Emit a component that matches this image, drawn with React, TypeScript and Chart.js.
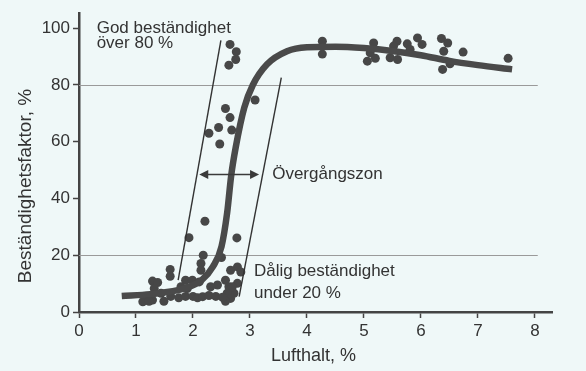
import React, { useEffect, useRef } from "react";
import { Chart, registerables } from "chart.js";
Chart.register(...registerables);

const FONT = "'Liberation Sans', Arial, Helvetica, sans-serif";
const BG = "#eff8f8";
const INK = "#333333";

const xTicks = [0, 1, 2, 3, 4, 5, 6, 7, 8];
const yTicks = [0, 20, 40, 60, 80, 100];
const gridValues = [20, 80];

// measured points (Lufthalt %, Beständighetsfaktor %)
const pointsX = [
  4.27, 4.27, 5.17, 5.11, 5.06, 5.2, 5.58, 5.52, 5.46, 5.59, 5.76, 5.81, 5.94, 6.02, 6.36, 6.47, 6.4, 6.74, 6.51, 6.38, 7.53,
  2.65, 2.76, 2.75, 2.63, 3.09, 2.57, 2.65, 2.45, 2.28, 2.68, 2.47,
  2.21, 1.93, 2.77, 2.18, 2.5,
  1.6, 1.6, 2.14, 2.14, 2.78, 2.66, 2.84,
  1.29, 1.38, 1.32, 1.17, 1.29, 1.44, 1.12, 1.23, 1.49,
  1.87, 1.99, 1.79, 1.9, 2.11, 2.43, 2.57, 2.63, 2.31,
  2.78, 2.72, 2.69, 2.6, 2.66, 2.57,
  1.61, 1.75, 1.87, 2.0, 2.08, 2.17, 2.28, 2.4, 2.52,
];
const pointsY = [
  95.4, 90.9, 94.8, 91.3, 88.4, 89.4, 95.4, 93.7, 89.6, 89.0, 94.5, 92.5, 96.6, 94.3, 96.4, 94.8, 91.9, 91.6, 87.5, 85.5, 89.4,
  94.3, 91.7, 89.0, 87.0, 74.7, 71.7, 68.5, 65.0, 63.0, 64.1, 59.2,
  32.0, 26.2, 26.1, 20.0, 19.2,
  15.0, 12.6, 17.1, 14.7, 15.9, 14.7, 14.1,
  10.9, 10.4, 8.3, 4.8, 4.2, 6.6, 3.6, 3.8, 3.8,
  11.2, 11.2, 8.9, 8.3, 10.6, 9.5, 11.2, 8.9, 8.9,
  10.1, 6.6, 8.9, 6.6, 4.8, 3.8,
  5.5, 5.0, 5.5, 5.5, 5.0, 5.4, 5.8, 5.5, 5.2,
];

// fitted curve
const curveX = [0.75, 1.25, 1.85, 2.15, 2.35, 2.5, 2.6, 2.67, 2.75, 2.9, 3.05, 3.3, 3.65, 4.0, 4.5, 5.0, 5.5, 6.0, 6.5, 7.0, 7.6];
const curveY = [5.6, 6.3, 8.3, 11.2, 16, 23, 35, 48, 58, 72, 80, 87.3, 91.9, 93.3, 93.5, 93, 92, 90.5, 88.5, 87, 85.5];

// transition zone boundaries
const leftBoundX = [2.49, 1.74];
const leftBoundY = [95.7, 11.2];
const rightBoundX = [3.55, 2.81];
const rightBoundY = [82.6, 5.4];

// double arrow across the transition zone
const arrowX = [2.11, 3.16];
const arrowY = [48.5, 48.5];

const noteTexts = ["God beständighet", "över 80 %", "Övergångszon", "Dålig beständighet", "under 20 %"];
const noteX = [0.31, 0.31, 3.39, 3.07, 3.07];
const noteY = [100, 94.6, 48.5, 14.2, 6.7];

const xTitle = "Lufthalt, %";
const yTitle = "Beständighetsfaktor, %";

const extrasPlugin = {
  id: "extras",
  beforeDraw(chart: any) {
    const { ctx, width, height } = chart;
    ctx.save();
    ctx.fillStyle = BG;
    ctx.fillRect(0, 0, width, height);
    ctx.restore();
  },
  beforeDatasetsDraw(chart: any) {
    const { ctx } = chart;
    const xs = chart.scales.x;
    const ys = chart.scales.y;
    ctx.save();
    ctx.strokeStyle = "#9a9a9a";
    ctx.lineWidth = 1;
    gridValues.forEach((v) => {
      const py = Math.round(ys.getPixelForValue(v)) + 0.5;
      ctx.beginPath();
      ctx.moveTo(xs.getPixelForValue(0), py);
      ctx.lineTo(xs.getPixelForValue(8.05), py);
      ctx.stroke();
    });
    ctx.restore();
  },
  afterDatasetsDraw(chart: any) {
    const { ctx } = chart;
    const xs = chart.scales.x;
    const ys = chart.scales.y;
    ctx.save();
    // arrow
    const x1 = xs.getPixelForValue(arrowX[0]);
    const x2 = xs.getPixelForValue(arrowX[1]);
    const y1 = ys.getPixelForValue(arrowY[0]);
    ctx.strokeStyle = "#3a3a3a";
    ctx.fillStyle = "#3a3a3a";
    ctx.lineWidth = 1.5;
    ctx.beginPath();
    ctx.moveTo(x1 + 4, y1);
    ctx.lineTo(x2 - 4, y1);
    ctx.stroke();
    const head = (x: number, dir: number) => {
      ctx.beginPath();
      ctx.moveTo(x, y1);
      ctx.lineTo(x - dir * 9, y1 - 4.5);
      ctx.lineTo(x - dir * 9, y1 + 4.5);
      ctx.closePath();
      ctx.fill();
    };
    head(x1, -1);
    head(x2, 1);
    // notes
    ctx.fillStyle = INK;
    ctx.font = `17px ${FONT}`;
    ctx.textBaseline = "middle";
    ctx.textAlign = "left";
    noteTexts.forEach((t, i) => {
      ctx.fillText(t, xs.getPixelForValue(noteX[i]), ys.getPixelForValue(noteY[i]));
    });
    // axis titles
    ctx.textAlign = "center";
    ctx.font = `18px ${FONT}`;
    ctx.fillText(xTitle, (xs.left + xs.right) / 2 - 2, 356);
    ctx.font = `19px ${FONT}`;
    ctx.translate(26, 186);
    ctx.rotate(-Math.PI / 2);
    ctx.fillText(yTitle, 0, 0);
    ctx.restore();
  },
};

export default function App() {
  const ref = useRef<HTMLCanvasElement | null>(null);
  useEffect(() => {
    document.body.style.margin = "0";
    document.body.style.background = BG;
    const canvas = ref.current!;
    const chart = new Chart(canvas, {
      type: "scatter",
      data: {
        datasets: [
          {
            type: "line",
            data: leftBoundX.map((x, i) => ({ x, y: leftBoundY[i] })),
            borderColor: "#333",
            borderWidth: 1.4,
            pointRadius: 0,
            showLine: true,
          } as any,
          {
            type: "line",
            data: rightBoundX.map((x, i) => ({ x, y: rightBoundY[i] })),
            borderColor: "#333",
            borderWidth: 1.4,
            pointRadius: 0,
            showLine: true,
          } as any,
          {
            type: "line",
            data: curveX.map((x, i) => ({ x, y: curveY[i] })),
            borderColor: "#4a4a4a",
            borderWidth: 6.5,
            pointRadius: 0,
            cubicInterpolationMode: "monotone",
            borderCapStyle: "butt",
            showLine: true,
          } as any,
          {
            data: pointsX.map((x, i) => ({ x, y: pointsY[i] })),
            backgroundColor: "#474747",
            borderColor: "#474747",
            borderWidth: 0,
            pointRadius: 4.5,
          },
        ],
      },
      options: {
        animation: false,
        responsive: false,
        maintainAspectRatio: false,
        layout: { padding: { top: 12, right: 34, left: 0, bottom: 0 } },
        plugins: { legend: { display: false }, tooltip: { enabled: false } },
        scales: {
          x: {
            type: "linear",
            min: 0,
            max: 8.3,
            afterBuildTicks: (s: any) => {
              s.ticks = xTicks.map((v) => ({ value: v }));
            },
            afterFit: (s: any) => {
              s.height = 59;
            },
            grid: { display: true, drawOnChartArea: false, drawTicks: true, tickLength: 6, tickColor: "#444", tickWidth: 1.5 },
            border: { display: true, color: "#444", width: 2.5 },
            ticks: { color: INK, font: { size: 17, family: FONT }, padding: 3, maxRotation: 0 },
          },
          y: {
            type: "linear",
            min: 0,
            max: 105.3,
            afterBuildTicks: (s: any) => {
              s.ticks = yTicks.map((v) => ({ value: v }));
            },
            afterFit: (s: any) => {
              s.width = 79;
            },
            grid: { display: true, drawOnChartArea: false, drawTicks: true, tickLength: 6, tickColor: "#444", tickWidth: 1.5 },
            border: { display: true, color: "#444", width: 2.5 },
            ticks: { color: INK, font: { size: 17, family: FONT }, padding: 3 },
          },
        },
      },
      plugins: [extrasPlugin],
    } as any);
    return () => chart.destroy();
  }, []);
  return <canvas ref={ref} width={586} height={371} style={{ display: "block", width: 586, height: 371 }} />;
}
